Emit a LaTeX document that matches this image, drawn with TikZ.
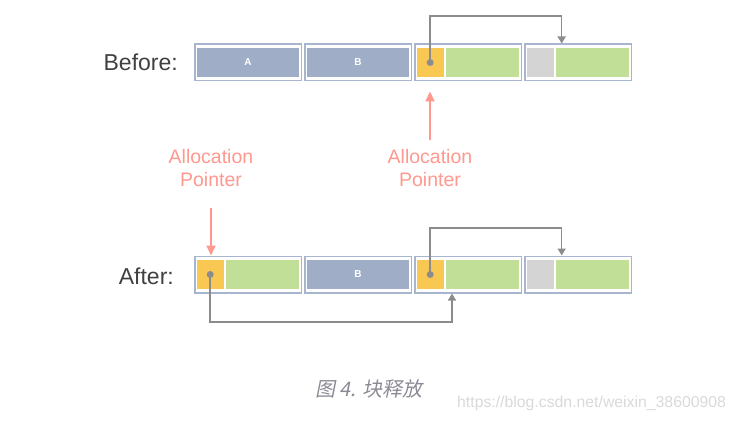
\documentclass[tikz,border=0pt]{standalone}
\usepackage{fontspec}
\setmainfont{Liberation Sans}
\newfontfamily\cjk[FakeSlant=0.2]{Noto Sans CJK SC}
\usetikzlibrary{positioning}
\usetikzlibrary{arrows.meta}
\definecolor{edgeblue}{RGB}{168,181,206}
\definecolor{usedblue}{RGB}{160,173,198}
\definecolor{hdryellow}{RGB}{249,200,82}
\definecolor{freegreen}{RGB}{194,223,152}
\definecolor{gapgray}{RGB}{212,212,212}
\definecolor{linkgray}{RGB}{140,140,140}
\definecolor{ptrpink}{RGB}{255,152,142}
\definecolor{capgray}{RGB}{138,138,150}
\tikzset{x=1pt, y=-1pt,
block/.style={ % Outer frame of a heap block
draw=edgeblue,
line width=1.5pt,
fill=white,
minimum width=106.5pt, minimum height=36.5pt, inner sep=0pt},
cell/.style={ % Any filled part inside a block
minimum height=29.5pt, inner sep=0pt},
used/.style={cell, fill=usedblue, minimum width=101.5pt,
text=white, font=\fontsize{10}{12}\selectfont\bfseries},
hdr/.style={cell, fill=hdryellow, minimum width=27pt},
gap/.style={cell, fill=gapgray, minimum width=27pt},
free/.style={cell, fill=freegreen, minimum width=72.5pt},
dot/.style={circle, fill=linkgray, inner sep=0pt, minimum size=7pt},
link/.style={ % Gray pointer between blocks
draw=linkgray,
line width=1.5pt,
-{Triangle[length=7pt,width=8pt]}},
ptr/.style={ % Allocation pointer arrow
draw=ptrpink,
line width=2pt,
-{Triangle[length=10pt,width=9pt]}},
rowlbl/.style={text=black!75, inner sep=0pt, font=\fontsize{23}{27}\selectfont},
ptrlbl/.style={text=ptrpink, inner sep=0pt, align=center,
font=\fontsize{19.5}{23}\selectfont}}

\begin{document}
\begin{tikzpicture}
	\useasboundingbox (0,0) rectangle (737,425);
	% Before
	\node[rowlbl, anchor=east] (before) at (178,62.5) {Before:};
	\node[block] (b1) at (248,62.5) {};
	\node[used] (b1u) at (b1) {A};
	\node[block] (b2) at (358,62.5) {};
	\node[used] (b2u) at (b2) {B};
	\node[block] (b3) at (468,62.5) {};
	\node[hdr, anchor=west] (b3h) at ([xshift=2.5pt]b3.west) {};
	\node[free, right=2pt of b3h] (b3f) {};
	\node[dot] (b3d) at (b3h) {};
	\node[block] (b4) at (578,62.5) {};
	\node[gap, anchor=west] (b4h) at ([xshift=2.5pt]b4.west) {};
	\node[free, right=2pt of b4h] (b4f) {};
	\draw[link] (b3d.center) -- ++(0,-46.5) -| ([xshift=-16.3pt]b4.north);
	% pointers
	\node[ptrlbl] (lblL) at (211,168) {Allocation\\Pointer};
	\node[ptrlbl] (lblR) at (430,168) {Allocation\\Pointer};
	% After
	\node[rowlbl, anchor=east] (after) at (174,276) {After:};
	\node[block] (a1) at (248,274.5) {};
	\node[hdr, anchor=west] (a1h) at ([xshift=2.5pt]a1.west) {};
	\node[free, right=2pt of a1h] (a1f) {};
	\node[dot] (a1d) at (a1h) {};
	\node[block] (a2) at (358,274.5) {};
	\node[used] (a2u) at (a2) {B};
	\node[block] (a3) at (468,274.5) {};
	\node[hdr, anchor=west] (a3h) at ([xshift=2.5pt]a3.west) {};
	\node[free, right=2pt of a3h] (a3f) {};
	\node[dot] (a3d) at (a3h) {};
	\node[block] (a4) at (578,274.5) {};
	\node[gap, anchor=west] (a4h) at ([xshift=2.5pt]a4.west) {};
	\node[free, right=2pt of a4h] (a4f) {};
	\draw[link] (a3d.center) -- ++(0,-46.5) -| ([xshift=-16.3pt]a4.north);
	\draw[link] (a1d.center) -- ++(0,47.4) -| ([xshift=-16pt]a3.south);
	\coordinate (tipR) at (lblR.north |- b3.south);
	\draw[ptr] ([yshift=9pt]lblR.north) -- ([yshift=-10pt]tipR);
	\draw[ptr] ([yshift=-21pt]lblL.south) -- (lblL.south |- a1.north);
	% caption
	\node[anchor=west, inner sep=0pt, text=capgray, font=\fontsize{20}{23}\selectfont] (cap) at (315,389) {\cjk 图 4. 块释放};
	\node[anchor=west, inner sep=0pt, text=gray!30, font=\fontsize{15.8}{18}\selectfont] (mark) at (457,403) {https://blog.csdn.net/weixin\_38600908};
\end{tikzpicture}
\end{document}
